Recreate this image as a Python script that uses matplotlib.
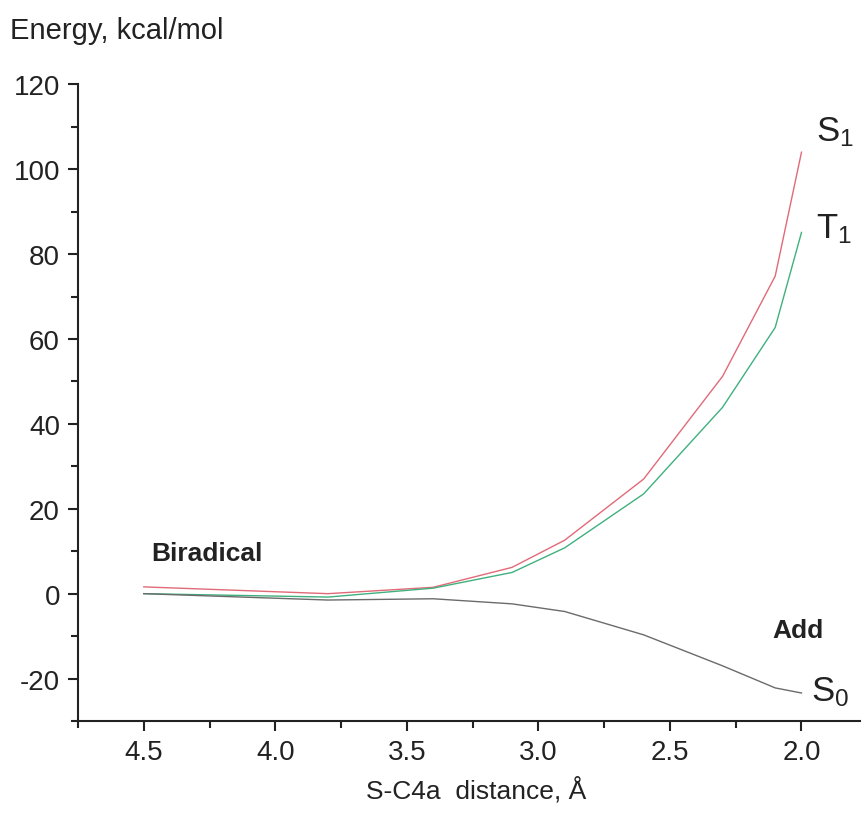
import matplotlib.pyplot as plt
from matplotlib.ticker import MultipleLocator

plt.rcParams['font.family'] = ['Liberation Sans', 'DejaVu Sans']
plt.rcParams['mathtext.fontset'] = 'custom'
plt.rcParams['mathtext.rm'] = 'Liberation Sans'
plt.rcParams['axes.unicode_minus'] = False

# S-C4a distance, A
dist = [4.5, 3.8, 3.4, 3.1, 2.9, 2.6, 2.3, 2.1, 2.0]
# energies, kcal/mol
s1 = [1.6, 0.0, 1.5, 6.2, 12.6, 27.0, 51.2, 74.8, 104.0]
t1 = [0.0, -0.8, 1.3, 5.0, 10.8, 23.5, 43.9, 62.7, 85.1]
s0 = [0.0, -1.5, -1.2, -2.4, -4.2, -9.7, -17.0, -22.2, -23.4]

fig = plt.figure(figsize=(8.62, 8.28), dpi=100)
ax = fig.add_axes([0.0905, 0.128, 0.9095, 0.769])

ax.plot(dist, s1, color='#e06a78', lw=1.0)
ax.plot(dist, t1, color='#3fb07e', lw=1.0)
ax.plot(dist, s0, color='#6b6b6b', lw=1.0)

ax.set_xlim(4.75, 1.77)
ax.set_ylim(-30, 120)
ax.xaxis.set_minor_locator(MultipleLocator(0.25))
ax.yaxis.set_major_locator(MultipleLocator(20))
ax.yaxis.set_minor_locator(MultipleLocator(10))
ax.set_xticks([4.5, 4.0, 3.5, 3.0, 2.5, 2.0])
ax.set_xticklabels(['4.5', '4.0', '3.5', '3.0', '2.5', '2.0'])

for s in ['top', 'right']:
    ax.spines[s].set_visible(False)
for s in ['left', 'bottom']:
    ax.spines[s].set_linewidth(1.5)
    ax.spines[s].set_color('#222222')
ax.tick_params(which='major', length=7, width=1.5, labelsize=20, colors='#222222', pad=6)
ax.tick_params(which='minor', length=5, width=1.5, colors='#222222')
ax.tick_params(axis='x', pad=6)

fig.text(0.012, 0.963, 'Energy, kcal/mol', fontsize=21, color='#222222', va='center')
fig.text(0.552, 0.046, 'S-C4a  distance, Å', fontsize=19, color='#222222', ha='center', va='center')

ax.text(4.47, 9.5, 'Biradical', fontsize=19, fontweight='bold', color='#222222', va='center')
ax.text(2.11, -8.5, 'Add', fontsize=19, fontweight='bold', color='#222222', va='center')
ax.text(1.945, 109, r'$\mathregular{S_1}$', fontsize=25, color='#222222', va='center')
ax.text(1.945, 86, r'$\mathregular{T_1}$', fontsize=25, color='#222222', va='center')
ax.text(1.965, -23, r'$\mathregular{S_0}$', fontsize=25, color='#222222', va='center')

fig.savefig('out.png', dpi=100)
